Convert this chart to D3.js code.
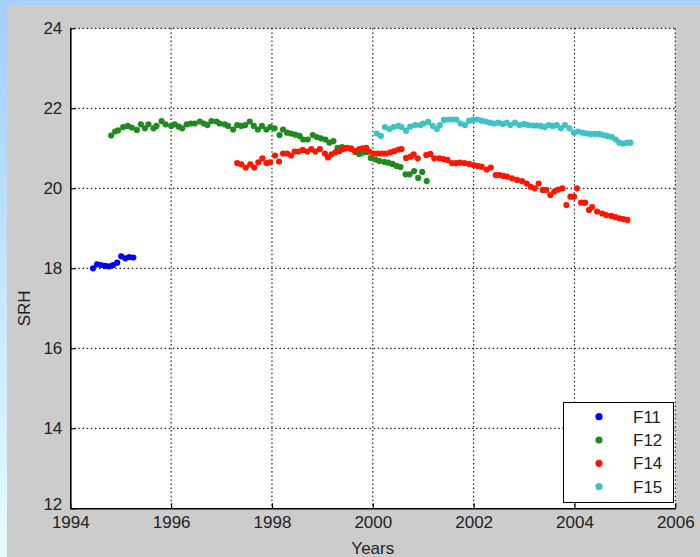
<!DOCTYPE html>
<html>
<head>
<meta charset="utf-8">
<script src="https://cdn.jsdelivr.net/npm/d3@7"></script>
<style>
  html, body { margin: 0; padding: 0; }
  body { width: 700px; height: 557px; overflow: hidden; }
  svg { display: block; }
  text { font-family: "Liberation Sans", Arial, sans-serif; }
</style>
</head>
<body>
<svg id="chart" width="700" height="557"></svg>
<script>
// ---------------- data ----------------
const seriesNames = ["F11", "F12", "F14", "F15"];
const seriesColors = ["#0000ff", "#1f8a1f", "#ff1500", "#3cc3c6"];

const xTicks = [1994, 1996, 1998, 2000, 2002, 2004, 2006];
const yTicks = [12, 14, 16, 18, 20, 22, 24];

const f11Years = [1994.45, 1994.53, 1994.61, 1994.69, 1994.77, 1994.85, 1994.93, 1995.01, 1995.09, 1995.17, 1995.25];
const f11Values = [18.00, 18.10, 18.08, 18.06, 18.05, 18.08, 18.14, 18.30, 18.25, 18.28, 18.27];

const f12Years = [1994.81, 1994.89, 1994.95, 1995.05, 1995.14, 1995.22, 1995.32, 1995.40, 1995.48, 1995.55,
  1995.65, 1995.71, 1995.81, 1995.89, 1996.00, 1996.07, 1996.15, 1996.22, 1996.31, 1996.39,
  1996.47, 1996.57, 1996.65, 1996.72, 1996.80, 1996.90, 1996.96, 1997.06, 1997.13, 1997.23,
  1997.31, 1997.39, 1997.47, 1997.56, 1997.64, 1997.72, 1997.80, 1997.89, 1997.97, 1998.05,
  1998.15, 1998.22, 1998.30, 1998.38, 1998.46, 1998.55, 1998.62, 1998.71, 1998.81, 1998.89,
  1998.97, 1999.06, 1999.14, 1999.22, 1999.30, 1999.39, 1999.47, 1999.57, 1999.65, 1999.73,
  1999.80, 1999.88, 1999.96, 2000.05, 2000.13, 2000.23, 2000.31, 2000.39, 2000.47, 2000.55,
  2000.65, 2000.73, 2000.82, 2000.90, 2000.98, 2001.07];
const f12Values = [21.32, 21.42, 21.45, 21.53, 21.56, 21.52, 21.46, 21.60, 21.50, 21.60,
  21.50, 21.56, 21.68, 21.60, 21.56, 21.60, 21.54, 21.50, 21.60, 21.62,
  21.62, 21.67, 21.62, 21.58, 21.68, 21.67, 21.62, 21.60, 21.56, 21.47,
  21.58, 21.56, 21.58, 21.67, 21.56, 21.47, 21.56, 21.47, 21.53, 21.50,
  21.33, 21.47, 21.39, 21.37, 21.34, 21.31, 21.22, 21.22, 21.33, 21.28,
  21.25, 21.22, 21.14, 21.18, 21.01, 21.03, 21.00, 21.00, 20.91, 20.86,
  20.89, 20.91, 20.76, 20.72, 20.68, 20.66, 20.64, 20.61, 20.56, 20.53,
  20.35, 20.35, 20.43, 20.26, 20.41, 20.18];

const f14Years = [1997.31, 1997.39, 1997.48, 1997.57, 1997.65, 1997.73, 1997.81, 1997.89, 1997.96, 1998.06,
  1998.14, 1998.22, 1998.30, 1998.38, 1998.45, 1998.53, 1998.61, 1998.70, 1998.78, 1998.86,
  1998.95, 1999.05, 1999.11, 1999.18, 1999.26, 1999.34, 1999.41, 1999.49, 1999.57, 1999.65,
  1999.73, 1999.80, 1999.87, 1999.93, 2000.02, 2000.10, 2000.18, 2000.26, 2000.35, 2000.43,
  2000.51, 2000.57, 2000.66, 2000.75, 2000.81, 2000.89, 2001.06, 2001.14, 2001.22, 2001.32,
  2001.40, 2001.48, 2001.57, 2001.65, 2001.73, 2001.82, 2001.91, 2002.00, 2002.08, 2002.16,
  2002.26, 2002.34, 2002.44, 2002.51, 2002.59, 2002.67, 2002.76, 2002.86, 2002.96, 2003.05,
  2003.13, 2003.21, 2003.29, 2003.37, 2003.44, 2003.52, 2003.60, 2003.68, 2003.76, 2003.84,
  2003.92, 2003.99, 2004.05, 2004.13, 2004.21, 2004.29, 2004.35, 2004.45, 2004.55, 2004.63,
  2004.73, 2004.81, 2004.89, 2004.97, 2005.05];
const f14Values = [20.63, 20.60, 20.52, 20.60, 20.52, 20.65, 20.75, 20.63, 20.65, 20.82,
  20.67, 20.87, 20.87, 20.82, 20.92, 20.92, 20.96, 20.92, 20.98, 20.92,
  20.98, 20.87, 20.77, 20.85, 20.90, 20.93, 20.98, 21.01, 20.98, 20.93,
  20.98, 21.00, 21.01, 20.92, 20.87, 20.87, 20.87, 20.87, 20.90, 20.93,
  20.97, 20.98, 20.76, 20.79, 20.85, 20.75, 20.83, 20.86, 20.75, 20.75,
  20.73, 20.71, 20.63, 20.63, 20.64, 20.63, 20.61, 20.58, 20.56, 20.54,
  20.47, 20.52, 20.33, 20.33, 20.31, 20.29, 20.25, 20.21, 20.18, 20.12,
  20.04, 20.00, 20.12, 19.96, 19.96, 19.83, 19.92, 19.97, 20.00, 19.58,
  19.79, 19.79, 20.00, 19.64, 19.64, 19.46, 19.53, 19.42, 19.37, 19.33,
  19.31, 19.28, 19.25, 19.23, 19.21];

const f15Years = [2000.08, 2000.16, 2000.24, 2000.33, 2000.41, 2000.51, 2000.57, 2000.66, 2000.74, 2000.84,
  2000.94, 2001.00, 2001.10, 2001.19, 2001.27, 2001.33, 2001.41, 2001.50, 2001.58, 2001.66,
  2001.74, 2001.83, 2001.91, 2001.99, 2002.07, 2002.16, 2002.24, 2002.32, 2002.40, 2002.49,
  2002.58, 2002.66, 2002.73, 2002.82, 2002.91, 2003.00, 2003.08, 2003.17, 2003.25, 2003.33,
  2003.41, 2003.49, 2003.57, 2003.65, 2003.73, 2003.81, 2003.90, 2003.99, 2004.07, 2004.16,
  2004.24, 2004.32, 2004.41, 2004.49, 2004.57, 2004.65, 2004.74, 2004.82, 2004.89, 2004.97,
  2005.05, 2005.11];
const f15Values = [21.37, 21.31, 21.53, 21.48, 21.53, 21.56, 21.53, 21.44, 21.54, 21.58,
  21.58, 21.62, 21.66, 21.56, 21.48, 21.58, 21.71, 21.72, 21.72, 21.72,
  21.62, 21.58, 21.69, 21.71, 21.72, 21.69, 21.67, 21.64, 21.62, 21.64,
  21.61, 21.64, 21.58, 21.64, 21.58, 21.61, 21.58, 21.57, 21.57, 21.56,
  21.53, 21.58, 21.56, 21.58, 21.50, 21.58, 21.50, 21.39, 21.42, 21.39,
  21.37, 21.36, 21.36, 21.36, 21.33, 21.31, 21.28, 21.22, 21.14, 21.12,
  21.14, 21.14];

const seriesYears = [f11Years, f12Years, f14Years, f15Years];
const seriesValues = [f11Values, f12Values, f14Values, f15Values];

// ---------------- drawing ----------------
const svg = d3.select("#chart");
const W = 700, H = 557;
const plot = { left: 70.3, right: 675.3, top: 28.3, bottom: 508.3 };
const FS = "17px";

const defs = svg.append("defs");
const grad = defs.append("linearGradient").attr("id", "edge").attr("x1", 0).attr("y1", 0).attr("x2", 0).attr("y2", 1);
grad.append("stop").attr("offset", "0%").attr("stop-color", "#a4ccff");
grad.append("stop").attr("offset", "100%").attr("stop-color", "#e4ffff");

svg.append("rect").attr("x", 0).attr("y", 0).attr("width", W).attr("height", H).attr("fill", "url(#edge)");
svg.append("rect").attr("x", 0).attr("y", 0).attr("width", W).attr("height", 5).attr("fill", "#a6cfff");
svg.append("rect").attr("x", 7).attr("y", 5).attr("width", W - 7).attr("height", H - 5).attr("fill", "#cccccc");

const x = d3.scaleLinear().domain([1994, 2006]).range([plot.left, plot.right]);
const y = d3.scaleLinear().domain([12, 24]).range([plot.bottom, plot.top]);

svg.append("rect").attr("x", plot.left).attr("y", plot.top)
  .attr("width", plot.right - plot.left).attr("height", plot.bottom - plot.top).attr("fill", "#ffffff");

// grid
const grid = svg.append("g").attr("stroke", "#222").attr("stroke-width", 1.2).attr("stroke-dasharray", "1.5,2.6");
grid.selectAll("line.vx").data(xTicks.slice(1)).join("line")
  .attr("x1", d => x(d)).attr("x2", d => x(d)).attr("y1", plot.top).attr("y2", plot.bottom);
grid.selectAll("line.hy").data(yTicks.slice(1)).join("line")
  .attr("x1", plot.left).attr("x2", plot.right).attr("y1", d => y(d)).attr("y2", d => y(d));

// axes
const xAxis = d3.axisBottom(x).tickValues(xTicks).tickFormat(d3.format("d")).tickSizeInner(-5).tickSizeOuter(0).tickPadding(8);
const yAxis = d3.axisLeft(y).tickValues(yTicks).tickSizeInner(-5).tickSizeOuter(0).tickPadding(8);
const gx = svg.append("g").attr("transform", `translate(0,${plot.bottom})`).call(xAxis);
const gy = svg.append("g").attr("transform", `translate(${plot.left},0)`).call(yAxis);
[gx, gy].forEach(g => {
  g.select(".domain").attr("stroke", "#000").attr("stroke-width", 1.6);
  g.selectAll(".tick line").attr("stroke", "#000").attr("stroke-width", 1.2);
  g.selectAll(".tick text").attr("fill", "#222").style("font-size", FS).style("font-family", "'Liberation Sans', Arial, sans-serif");
});
// nudge the lowest y label up slightly so it does not collide with "1994"
gy.selectAll(".tick text").filter(d => d === 12).attr("dy", "0.05em");

// axis titles
svg.append("text").attr("x", x(2000)).attr("y", 554).attr("text-anchor", "middle")
  .attr("fill", "#222").style("font-size", FS).text("Years");
svg.append("text").attr("transform", `translate(30,${y(17)}) rotate(-90)`).attr("text-anchor", "middle")
  .attr("fill", "#222").style("font-size", FS).text("SRH");

// points
const pts = svg.append("g");
seriesNames.forEach((name, i) => {
  const data = seriesYears[i].map((yr, j) => ({ yr, v: seriesValues[i][j] }));
  pts.append("g").attr("fill", seriesColors[i])
    .selectAll("circle").data(data).join("circle")
    .attr("cx", d => x(d.yr)).attr("cy", d => y(d.v)).attr("r", 3.1);
});

// legend
const lg = svg.append("g");
lg.append("rect").attr("x", 563.5).attr("y", 402.5).attr("width", 110).attr("height", 100)
  .attr("fill", "#fff").attr("stroke", "#000").attr("stroke-width", 1);
seriesNames.forEach((name, i) => {
  const cy = 416.7 + i * 23.3;
  lg.append("circle").attr("cx", 599).attr("cy", cy).attr("r", 3.6).attr("fill", seriesColors[i]);
  lg.append("text").attr("x", 633).attr("y", cy + 6).attr("fill", "#222").style("font-size", FS).text(name);
});
</script>
</body>
</html>
